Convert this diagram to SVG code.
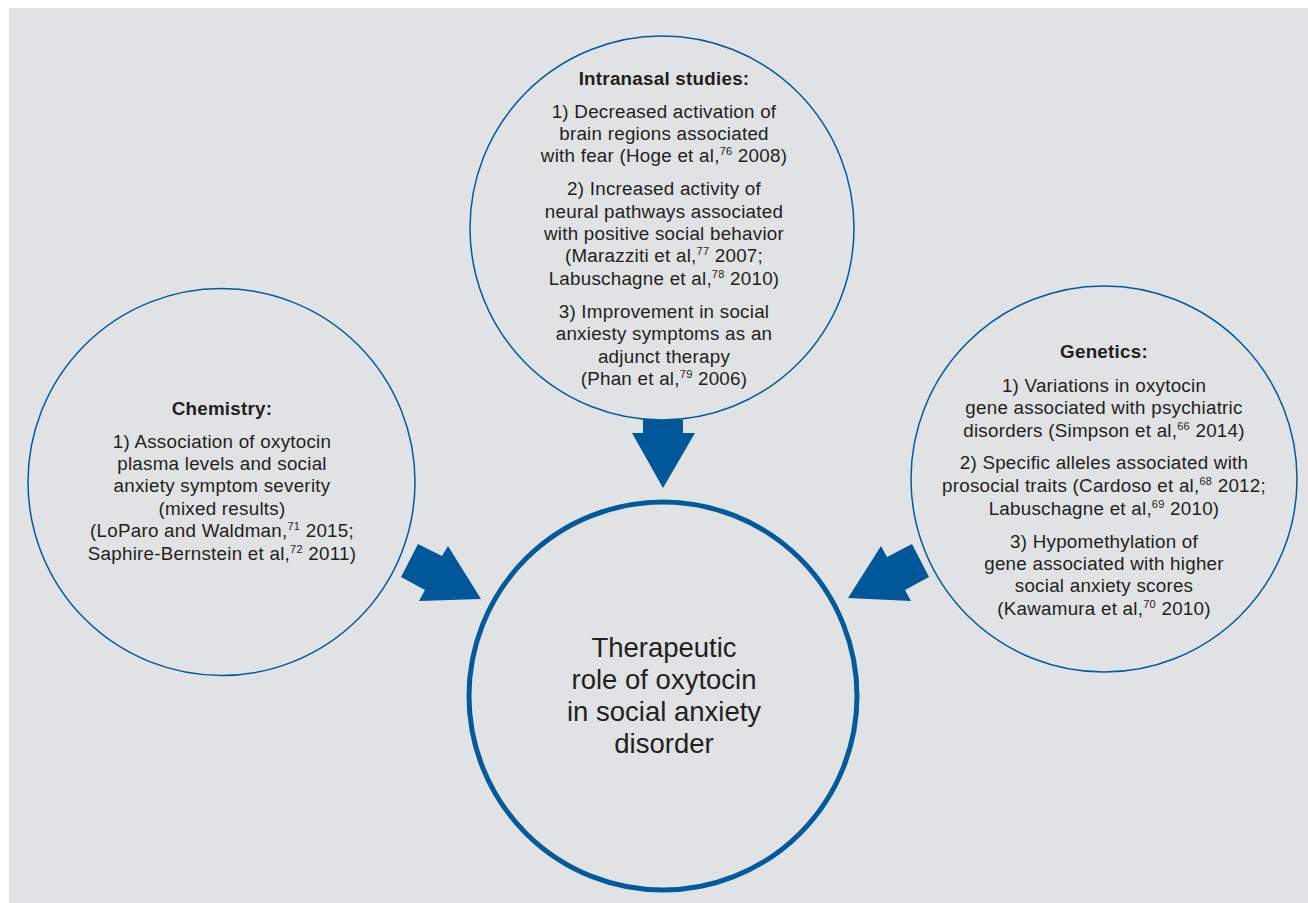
<svg xmlns="http://www.w3.org/2000/svg" width="1308" height="903" viewBox="0 0 1308 903">
<style>
.bg{fill:#e1e2e4}
.c{fill:none;stroke:#005a9c;stroke-width:1.5}
.cm{fill:none;stroke:#005a9c;stroke-width:5}
.ar{fill:#00579a}
text{font-family:"Liberation Sans",Arial,sans-serif;fill:#231f20;text-anchor:middle;font-size:18.8px;letter-spacing:0.25px}
.h{font-weight:bold}
.big{font-size:27.5px;letter-spacing:0}
.sup{font-size:11px}
</style>
<rect x="0" y="0" width="1308" height="903" fill="#ffffff"/>
<rect class="bg" x="9" y="8" width="1299" height="895"/>
<g id="connectors">
<polygon class="ar" points="643,420 683,420 683,433 695,433 663,488 632,433 643,433"/>
<polygon class="ar" points="418,544 442,556 448,546 481,599 419,601 425,590 401,577"/>
<polygon class="ar" points="912,544 929,577 905,590 911,601 848,598 881,546 887,557"/>
</g>
<g id="intranasal">
<circle class="c" cx="662" cy="228" r="192"/>
<text class="h" x="664" y="85">Intranasal studies:</text>
<text x="664" y="118">1) Decreased activation of</text>
<text x="664" y="140">brain regions associated</text>
<text x="664" y="162">with fear (Hoge et al,<tspan class="sup" dy="-7">76</tspan><tspan dy="7"> 2008)</tspan></text>
<text x="664" y="195">2) Increased activity of</text>
<text x="664" y="218">neural pathways associated</text>
<text x="664" y="240">with positive social behavior</text>
<text x="664" y="262">(Marazziti et al,<tspan class="sup" dy="-7">77</tspan><tspan dy="7"> 2007;</tspan></text>
<text x="664" y="285">Labuschagne et al,<tspan class="sup" dy="-7">78</tspan><tspan dy="7"> 2010)</tspan></text>
<text x="664" y="318">3) Improvement in social</text>
<text x="664" y="340">anxiesty symptoms as an</text>
<text x="664" y="363">adjunct therapy</text>
<text x="664" y="385">(Phan et al,<tspan class="sup" dy="-7">79</tspan><tspan dy="7"> 2006)</tspan></text>
</g>
<g id="chemistry">
<circle class="c" cx="221.5" cy="482" r="193.5"/>
<text class="h" x="222" y="415">Chemistry:</text>
<text x="222" y="448">1) Association of oxytocin</text>
<text x="222" y="470">plasma levels and social</text>
<text x="222" y="492">anxiety symptom severity</text>
<text x="222" y="514.5">(mixed results)</text>
<text x="222" y="537">(LoParo and Waldman,<tspan class="sup" dy="-7">71</tspan><tspan dy="7"> 2015;</tspan></text>
<text x="222" y="559.5">Saphire-Bernstein et al,<tspan class="sup" dy="-7">72</tspan><tspan dy="7"> 2011)</tspan></text>
</g>
<g id="genetics">
<circle class="c" cx="1104" cy="479" r="193"/>
<text class="h" x="1104" y="358">Genetics:</text>
<text x="1104" y="392">1) Variations in oxytocin</text>
<text x="1104" y="414">gene associated with psychiatric</text>
<text x="1104" y="437">disorders (Simpson et al,<tspan class="sup" dy="-7">66</tspan><tspan dy="7"> 2014)</tspan></text>
<text x="1104" y="469">2) Specific alleles associated with</text>
<text x="1104" y="492">prosocial traits (Cardoso et al,<tspan class="sup" dy="-7">68</tspan><tspan dy="7"> 2012;</tspan></text>
<text x="1104" y="514.5">Labuschagne et al,<tspan class="sup" dy="-7">69</tspan><tspan dy="7"> 2010)</tspan></text>
<text x="1104" y="548">3) Hypomethylation of</text>
<text x="1104" y="570">gene associated with higher</text>
<text x="1104" y="592">social anxiety scores</text>
<text x="1104" y="614.5">(Kawamura et al,<tspan class="sup" dy="-7">70</tspan><tspan dy="7"> 2010)</tspan></text>
</g>
<g id="center">
<circle class="cm" cx="663" cy="696" r="194"/>
<text class="big" x="664" y="657">Therapeutic</text>
<text class="big" x="664" y="689">role of oxytocin</text>
<text class="big" x="664" y="721">in social anxiety</text>
<text class="big" x="664" y="753">disorder</text>
</g>
</svg>
